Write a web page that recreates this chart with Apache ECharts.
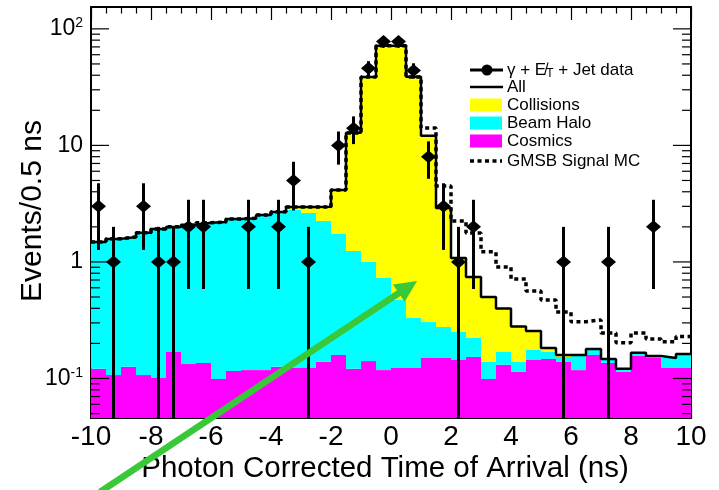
<!DOCTYPE html>
<html>
<head>
<meta charset="utf-8">
<script src="https://cdn.jsdelivr.net/npm/echarts@6/dist/echarts.min.js"></script>
<style>
  html, body { margin: 0; padding: 0; background: #fff; }
  #chart { width: 719px; height: 490px; }
</style>
</head>
<body>
<div id="chart"></div>
<script>
// Histogram bin edges (ns), 0.5 ns bins
const binEdges = [-10, -9.5, -9, -8.5, -8, -7.5, -7, -6.5, -6, -5.5, -5, -4.5, -4, -3.5, -3, -2.5, -2, -1.5, -1, -0.5,
                  0, 0.5, 1, 1.5, 2, 2.5, 3, 3.5, 4, 4.5, 5, 5.5, 6, 6.5, 7, 7.5, 8, 8.5, 9, 9.5, 10];

// Background model components, events / 0.5 ns
const cosmics = [0.121, 0.107, 0.126, 0.107, 0.101, 0.169, 0.133, 0.136, 0.099, 0.116,
                 0.118, 0.118, 0.126, 0.123, 0.123, 0.139, 0.159, 0.121, 0.141, 0.118,
                 0.123, 0.123, 0.150, 0.150, 0.144, 0.153, 0.099, 0.131, 0.114, 0.144,
                 0.147, 0.139, 0.118, 0.159, 0.136, 0.114, 0.156, 0.150, 0.123, 0.123];
const beamHalo = [1.36, 1.47, 1.51, 1.67, 1.82, 1.83, 1.95, 2.03, 2.10, 2.22,
                  2.22, 2.36, 2.51, 2.67, 2.51, 2.11, 1.58, 1.12, 0.86, 0.61,
                  0.35, 0.21, 0.155, 0.127, 0.107, 0.070, 0.040, 0.038, 0.025, 0.032,
                  0.022, 0.014, 0.038, 0.017, 0.011, 0.007, 0.010, 0.006, 0.027, 0.039];
const collisions = [0, 0, 0, 0, 0, 0, 0, 0, 0, 0,
                    0.03, 0.05, 0.05, 0.17, 0.33, 0.72, 2.41, 11.6, 37.7, 70.8,
                    71.0, 38.4, 11.8, 2.63, 0.83, 0.52, 0.36, 0.23, 0.14, 0.08,
                    0.014, 0.006, 0.003, 0.003, 0, 0, 0, 0, 0, 0];

// GMSB signal MC expectation
const gmsbSignal = [1.48, 1.58, 1.64, 1.78, 1.92, 2.00, 2.08, 2.17, 2.20, 2.34,
                    2.37, 2.53, 2.69, 2.96, 2.96, 2.97, 4.15, 12.8, 38.7, 71.5,
                    71.5, 38.7, 14.1, 4.49, 2.25, 1.77, 1.22, 0.906, 0.715, 0.564,
                    0.472, 0.372, 0.307, 0.318, 0.246, 0.203, 0.246, 0.218, 0.207, 0.229];

// Observed data: bin centres (ns) and event counts
const dataTime = [-9.75, -9.25, -8.25, -7.75, -7.25, -6.75, -6.25, -4.75, -3.75, -3.25, -2.75, -1.75,
                  -1.25, -0.75, -0.25, 0.25, 0.75, 1.25, 1.75, 2.25, 2.75, 5.75, 7.25, 8.75];
const dataCounts = [3, 1, 3, 1, 1, 2, 2, 2, 2, 5, 1, 10,
                    14, 46, 78, 78, 44, 8, 3, 1, 2, 1, 1, 2];

// Axis ranges
const xMin = -10, xMax = 10;
const yMin = 0.0458, yMax = 154;

// Legend entries
const legendLabels = ['All', 'Collisions', 'Beam Halo', 'Cosmics', 'GMSB Signal MC'];

const FONT = '"Liberation Sans", Arial, Helvetica, sans-serif';
const COL_COLL = '#ffff00', COL_HALO = '#00ffff', COL_COSM = '#ff00ff';

const nBins = cosmics.length;
const allBkg = cosmics.map((c, i) => c + beamHalo[i] + collisions[i]);

function stepPoints(vals) {
  const pts = vals.map((v, i) => [binEdges[i], v]);
  pts.push([binEdges[nBins], vals[nBins - 1]]);
  return pts;
}

const chart = echarts.init(document.getElementById('chart'), null, { renderer: 'canvas' });

const xAxisCommon = {
  type: 'value', min: xMin, max: xMax, interval: 2,
  gridIndex: 0,
  axisLine: { show: true, onZero: false, lineStyle: { color: '#000', width: 2 } },
  axisTick: { show: true, inside: true, length: 13, lineStyle: { color: '#000', width: 1.2 } },
  minorTick: { show: true, splitNumber: 4, length: 6.5, lineStyle: { color: '#000', width: 1.2 } },
  splitLine: { show: false }
};

const yAxisCommon = {
  type: 'log', logBase: 10, min: yMin, max: yMax,
  gridIndex: 0,
  axisLine: { show: true, onZero: false, lineStyle: { color: '#000', width: 2 } },
  axisTick: { show: false },
  splitLine: { show: false }
};

function yLabel(v) {
  const lg = Math.log10(v);
  const e = Math.round(lg);
  if (Math.abs(lg - e) > 1e-6) return '';
  if (e === 0) return '{b|1}';
  if (e === 1) return '{b|10}';
  return '{b|10}{e|' + e + '}';
}

const option = {
  animation: false,
  backgroundColor: '#fff',
  grid: { left: 91, top: 7, width: 600, height: 411, outerBoundsMode: 'none', containLabel: false },
  xAxis: [
    Object.assign({}, xAxisCommon, {
      position: 'bottom',
      axisLabel: { show: true, margin: 5, fontSize: 28, fontFamily: FONT, color: '#000',
                   showMinLabel: true, showMaxLabel: true, hideOverlap: false }
    }),
    Object.assign({}, xAxisCommon, { position: 'top', axisLabel: { show: false } })
  ],
  yAxis: [
    Object.assign({}, yAxisCommon, {
      position: 'left',
      axisLabel: {
        show: true, margin: 8, formatter: yLabel, showMinLabel: false, showMaxLabel: false,
        rich: {
          b: { fontSize: 23, fontFamily: FONT, color: '#000' },
          e: { fontSize: 14, fontFamily: FONT, color: '#000', verticalAlign: 'top', padding: [0, 0, 11, 0] }
        }
      }
    }),
    Object.assign({}, yAxisCommon, { position: 'right', axisLabel: { show: false } })
  ],
  series: [
    {
      // stacked histograms: cosmics, beam halo, collisions
      type: 'custom', name: 'stack', xAxisIndex: 0, yAxisIndex: 0, clip: true, z: 1,
      data: cosmics.map((c, i) => [i]),
      renderItem: function (params, api) {
        const i = params.dataIndex;
        const x0 = binEdges[i], x1 = binEdges[i + 1];
        const c = cosmics[i], h = beamHalo[i], k = collisions[i];
        const layers = [[yMin, c, COL_COSM], [c, c + h, COL_HALO], [c + h, c + h + k, COL_COLL]];
        const children = [];
        layers.forEach(function (l) {
          if (l[1] <= l[0]) return;
          const p0 = api.coord([x0, l[0]]);
          const p1 = api.coord([x1, l[1]]);
          children.push({
            type: 'rect',
            shape: { x: p0[0], y: p1[1], width: p1[0] - p0[0], height: p0[1] - p1[1] },
            style: { fill: l[2] }
          });
        });
        return { type: 'group', children: children };
      }
    },
    {
      name: 'GMSB Signal MC', type: 'line', step: 'end', data: stepPoints(gmsbSignal),
      showSymbol: false, z: 3,
      lineStyle: { color: '#000', width: 3.5, type: [4, 3.5], cap: 'butt' }
    },
    {
      name: 'All', type: 'line', step: 'end', data: stepPoints(allBkg),
      showSymbol: false, z: 4,
      lineStyle: { color: '#000', width: 2.5 }
    },
    {
      // observed events with Poisson error bars
      type: 'custom', name: 'data', clip: true, z: 6,
      data: dataTime.map((t, i) => [t, dataCounts[i]]),
      renderItem: function (params, api) {
        const t = api.value(0), n = api.value(1);
        const err = Math.sqrt(n);
        const lo = Math.max(n - err, yMin);
        const pLo = api.coord([t, lo]);
        const pHi = api.coord([t, n + err]);
        const p = api.coord([t, n]);
        return {
          type: 'group',
          children: [
            { type: 'line', shape: { x1: p[0], y1: pLo[1], x2: p[0], y2: pHi[1] },
              style: { stroke: '#000', lineWidth: 3 } },
            { type: 'polygon', shape: { points: [[p[0] - 7.5, p[1]], [p[0], p[1] - 6.5], [p[0] + 7.5, p[1]], [p[0], p[1] + 6.5]] },
              style: { fill: '#000' } }
          ]
        };
      }
    },
    {
      // log-axis ticks on left and right frame edges
      type: 'custom', name: 'yticks', clip: false, z: 7, silent: true,
      data: [[0]],
      renderItem: function (params, api) {
        const children = [];
        const left = api.coord([xMin, 1])[0];
        const right = api.coord([xMax, 1])[0];
        const e0 = Math.floor(Math.log10(yMin)), e1 = Math.ceil(Math.log10(yMax));
        for (let e = e0; e <= e1; e++) {
          for (let m = 1; m <= 9; m++) {
            const v = m * Math.pow(10, e);
            if (v < yMin || v > yMax) continue;
            const y = api.coord([xMin, v])[1];
            const len = m === 1 ? 18 : 9;
            children.push({ type: 'line', shape: { x1: left, y1: y, x2: left + len, y2: y }, style: { stroke: '#000', lineWidth: 1.2 } });
            children.push({ type: 'line', shape: { x1: right, y1: y, x2: right - len, y2: y }, style: { stroke: '#000', lineWidth: 1.2 } });
          }
        }
        return { type: 'group', children: children };
      }
    }
  ]
};

chart.setOption(option);

// Legend and annotations
const legendX = 470, textX = 507;
const rowsY = [70, 87, 105, 123, 141, 161];
const legendGraphics = [
  { type: 'line', shape: { x1: legendX, y1: rowsY[0], x2: legendX + 33, y2: rowsY[0] }, style: { stroke: '#000', lineWidth: 3 } },
  { type: 'circle', shape: { cx: legendX + 17, cy: rowsY[0], r: 5.5 }, style: { fill: '#000' } },
  { type: 'text', x: textX, y: rowsY[0], style: {
      text: '{n|\u03b3 + }{n|E\u0338}{s|T}{n| + Jet data}', verticalAlign: 'middle', align: 'left',
      rich: {
        n: { fontSize: 17, fontFamily: FONT, fill: '#000' },
        s: { fontSize: 12, fontFamily: FONT, fill: '#000', verticalAlign: 'bottom', padding: [8, 0, 0, 0] }
      } } },
  { type: 'line', shape: { x1: legendX, y1: rowsY[1], x2: legendX + 33, y2: rowsY[1] }, style: { stroke: '#000', lineWidth: 2.5 } },
  { type: 'rect', shape: { x: legendX, y: rowsY[2] - 6.5, width: 32, height: 13 }, style: { fill: COL_COLL } },
  { type: 'rect', shape: { x: legendX, y: rowsY[3] - 6.5, width: 32, height: 13 }, style: { fill: COL_HALO } },
  { type: 'rect', shape: { x: legendX, y: rowsY[4] - 6.5, width: 32, height: 13 }, style: { fill: COL_COSM } },
  { type: 'line', shape: { x1: legendX, y1: rowsY[5], x2: legendX + 32, y2: rowsY[5] }, style: { stroke: '#000', lineWidth: 3.5, lineDash: [4, 3.5] } }
];
legendLabels.forEach(function (txt, i) {
  legendGraphics.push({ type: 'text', x: textX, y: rowsY[i + 1],
    style: { text: txt, fontSize: 17, fontFamily: FONT, fill: '#000', verticalAlign: 'middle', align: 'left' } });
});

// Axis titles
legendGraphics.push({ type: 'text', x: 385, y: 469, style: {
  text: 'Photon Corrected Time of Arrival (ns)', fontSize: 29.5, fontFamily: FONT, fill: '#000',
  align: 'center', verticalAlign: 'middle' } });
legendGraphics.push({ type: 'text', x: 33, y: 211, rotation: Math.PI / 2, style: {
  text: 'Events/0.5 ns', fontSize: 30, fontFamily: FONT, fill: '#000',
  align: 'center', verticalAlign: 'middle' } });

// Annotation arrow pointing into the collision tail
const arrowTail = chart.convertToPixel({ xAxisIndex: 0, yAxisIndex: 0 }, [-9.7, 0.0106]);
const arrowTip = chart.convertToPixel({ xAxisIndex: 0, yAxisIndex: 0 }, [0.87, 0.687]);
const dx = arrowTip[0] - arrowTail[0], dy = arrowTip[1] - arrowTail[1];
const dl = Math.sqrt(dx * dx + dy * dy);
const ux = dx / dl, uy = dy / dl;
const headLen = 22, headHalf = 10.5;
const bx = arrowTip[0] - ux * headLen, by = arrowTip[1] - uy * headLen;
const GREEN = '#38c838';
legendGraphics.push({ type: 'line', z: 100, shape: { x1: arrowTail[0], y1: arrowTail[1], x2: bx + ux * 2, y2: by + uy * 2 },
  style: { stroke: GREEN, lineWidth: 6.5 } });
legendGraphics.push({ type: 'polygon', z: 100, shape: { points: [
  [arrowTip[0], arrowTip[1]],
  [bx - uy * headHalf, by + ux * headHalf],
  [bx + uy * headHalf, by - ux * headHalf]] }, style: { fill: GREEN } });

chart.setOption({ graphic: { elements: legendGraphics } });
</script>
</body>
</html>
